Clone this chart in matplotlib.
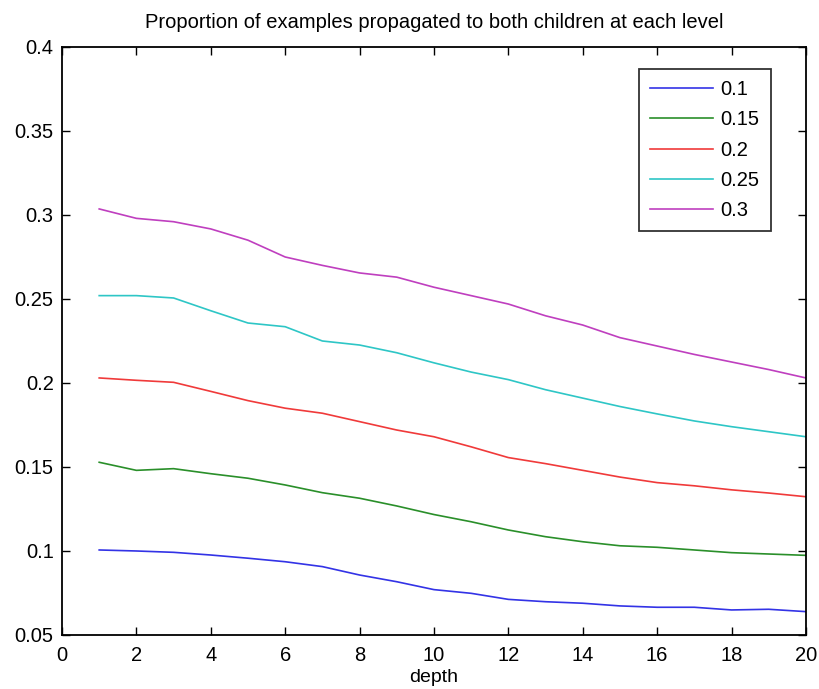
import numpy as np
import matplotlib
matplotlib.use("Agg")
import matplotlib.pyplot as plt

plt.rcParams['font.family'] = ['Liberation Sans', 'DejaVu Sans']

depth = list(range(1, 21))
labels = ['0.1', '0.15', '0.2', '0.25', '0.3']

p010 = [0.1006, 0.1000, 0.0992, 0.0976, 0.0957, 0.0936, 0.0907, 0.0857, 0.0817, 0.0770,
        0.0748, 0.0712, 0.0698, 0.0689, 0.0673, 0.0665, 0.0665, 0.0649, 0.0653, 0.0639]
p015 = [0.1528, 0.1480, 0.1490, 0.1460, 0.1433, 0.1393, 0.1347, 0.1314, 0.1268, 0.1217,
        0.1174, 0.1125, 0.1085, 0.1055, 0.1031, 0.1022, 0.1006, 0.0990, 0.0982, 0.0974]
p020 = [0.2030, 0.2016, 0.2004, 0.1950, 0.1895, 0.1850, 0.1820, 0.1770, 0.1720, 0.1680,
        0.1620, 0.1556, 0.1520, 0.1480, 0.1440, 0.1407, 0.1388, 0.1364, 0.1345, 0.1323]
p025 = [0.2520, 0.2520, 0.2506, 0.2430, 0.2357, 0.2335, 0.2250, 0.2226, 0.2180, 0.2120,
        0.2065, 0.2020, 0.1960, 0.1910, 0.1860, 0.1816, 0.1774, 0.1740, 0.1710, 0.1680]
p030 = [0.3036, 0.2980, 0.2960, 0.2917, 0.2850, 0.2750, 0.2700, 0.2655, 0.2630, 0.2570,
        0.2520, 0.2470, 0.2400, 0.2345, 0.2270, 0.2220, 0.2170, 0.2125, 0.2080, 0.2030]

series = [p010, p015, p020, p025, p030]
colors = ['#3333e6', '#2a8f2a', '#f03a3a', '#2ec6c6', '#bf3fbf']

fig = plt.figure(figsize=(8.19, 6.89), dpi=100)
ax = fig.add_axes([0.0757, 0.0784, 0.9083, 0.8534])

for ys, c, lab in zip(series, colors, labels):
    ax.plot(depth, ys, color=c, lw=1.2, label=lab)

ax.set_xlim(0, 20)
ax.set_ylim(0.05, 0.4)
ax.set_xticks(np.arange(0, 21, 2))
ax.set_yticks([0.05, 0.1, 0.15, 0.2, 0.25, 0.3, 0.35, 0.4])
ax.set_yticklabels(['0.05', '0.1', '0.15', '0.2', '0.25', '0.3', '0.35', '0.4'])
ax.tick_params(direction='in', top=True, right=True, length=6, width=1, labelsize=14.5)
ax.tick_params(axis='y', pad=6)
ax.tick_params(axis='x', pad=8)
for s in ax.spines.values():
    s.set_linewidth(1.3)

ax.set_xlabel('depth', fontsize=14, labelpad=3)
ax.set_title('Proportion of examples propagated to both children at each level', fontsize=14.5, pad=14)

leg = ax.legend(loc='upper right', bbox_to_anchor=(0.9526, 0.9626), fontsize=14.5, frameon=True,
                fancybox=False, edgecolor='black', handlelength=3.1, labelspacing=0.56,
                borderpad=0.55, handletextpad=0.4, borderaxespad=0)
leg.get_frame().set_linewidth(1.3)

fig.savefig('out.png', dpi=100)
